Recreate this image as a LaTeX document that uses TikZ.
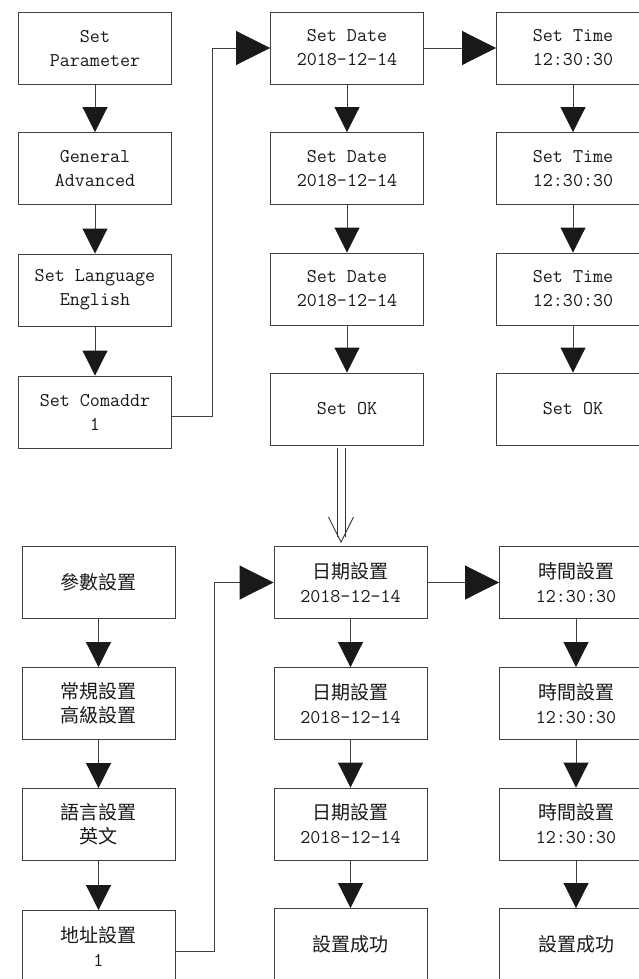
\documentclass[tikz,border=0pt]{standalone}
\usepackage{fontspec}
\newfontfamily\cjk{Noto Sans CJK TC}
\usetikzlibrary{arrows.meta}
\newcommand{\zh}[1]{{\cjk\fontsize{19}{24}\selectfont #1}}

\begin{document}
\begin{tikzpicture}[
        x=1pt, y=-1pt,
        line width=0.9pt,
        box/.style={rectangle, draw=black!75, minimum width=153pt, minimum height=72pt,
                    inner sep=0pt, align=center, text=black!90,
                    font=\ttfamily\fontsize{19.5}{24}\selectfont},
        down/.style={draw=black!75, -{Triangle[length=25pt, width=25pt, color=black!90]}},
        side/.style={draw=black!75, -{Triangle[length=34pt, width=34pt, color=black!90]}}
    ]
    \useasboundingbox (0,0) rectangle (639,979);
    \clip (0,0) rectangle (639,979);

    % English menu - left column
    \node[box] (EP1) at (95,48)    {Set\\Parameter};
    \node[box] (EP2) at (95,168.5) {General\\Advanced};
    \node[box] (EP3) at (95,290)   {Set Language\\English};
    \node[box] (EP4) at (95,412)   {Set Comaddr\\1};

    % English menu - date column
    \node[box] (ED1) at (347,48)    {Set Date\\2018-12-14};
    \node[box] (ED2) at (347,168.5) {Set Date\\2018-12-14};
    \node[box] (ED3) at (347,289)   {Set Date\\2018-12-14};
    \node[box] (ED4) at (347,409)   {Set OK};

    % English menu - time column
    \node[box] (ET1) at (573,48)    {Set Time\\12:30:30};
    \node[box] (ET2) at (573,168.5) {Set Time\\12:30:30};
    \node[box] (ET3) at (573,289)   {Set Time\\12:30:30};
    \node[box] (ET4) at (573,409)   {Set OK};

    % Chinese menu - left column
    \node[box] (CP1) at (98.5,582.5) {\zh{參數設置}};
    \node[box] (CP2) at (98.5,703.5) {\zh{常規設置}\\\zh{高級設置}};
    \node[box] (CP3) at (98.5,824.5) {\zh{語言設置}\\\zh{英文}};
    \node[box] (CP4) at (98.5,946.5) {\zh{地址設置}\\1};

    % Chinese menu - date column
    \node[box] (CD1) at (350.5,582.5) {\zh{日期設置}\\2018-12-14};
    \node[box] (CD2) at (350.5,703.5) {\zh{日期設置}\\2018-12-14};
    \node[box] (CD3) at (350.5,824)   {\zh{日期設置}\\2018-12-14};
    \node[box] (CD4) at (350.5,944.5) {\zh{設置成功}};

    % Chinese menu - time column
    \node[box] (CT1) at (576,582.5) {\zh{時間設置}\\12:30:30};
    \node[box] (CT2) at (576,703.5) {\zh{時間設置}\\12:30:30};
    \node[box] (CT3) at (576,824)   {\zh{時間設置}\\12:30:30};
    \node[box] (CT4) at (576,944.5) {\zh{設置成功}};

    % Downward steps
    \foreach \c in {EP,ED,ET,CP,CD,CT}
        \foreach \i/\j in {1/2,2/3,3/4}
            \draw[down] (\c\i.south) -- (\c\j.north);

    % Date to time
    \draw[side] (ED1.east) -- (ET1.west);
    \draw[side] (CD1.east) -- (CT1.west);

    % Address to date
    \draw[side] ([yshift=-4pt]EP4.east) -- ++(40,0) |- (ED1.west);
    \draw[side] ([yshift=-4.5pt]CP4.east) -- ++(39,0) |- (CD1.west);

    % English to Chinese (double arrow)
    \coordinate (vtip) at ([xshift=-6pt,yshift=4pt]ED4.south |- CD1.north);
    \foreach \s in {-4,4}
        \draw[draw=black!80, line width=0.8pt]
            ([xshift=\s pt,yshift=-3pt]ED4.south -| vtip) -- ([xshift=\s pt,yshift=5pt]vtip);
    \draw[draw=black!80] ([xshift=-12.5pt,yshift=25pt]vtip) -- (vtip) -- ([xshift=12.5pt,yshift=25pt]vtip);
\end{tikzpicture}
\end{document}
